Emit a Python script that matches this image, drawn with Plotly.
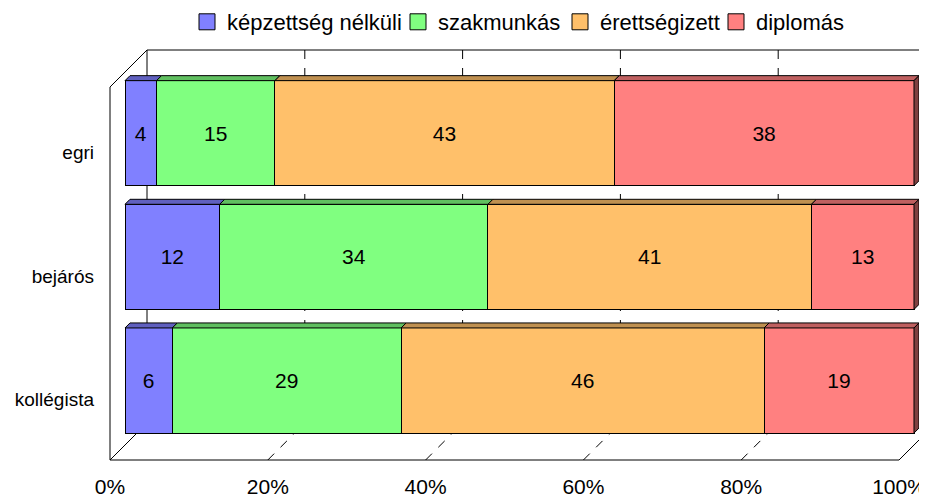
import plotly.graph_objects as go

# ---------------- data ----------------
categories = ["egri", "bejárós", "kollégista"]
series_names = ["képzettség nélküli", "szakmunkás", "érettségizett", "diplomás"]
val_nelkuli = [4, 12, 6]
val_szakmunkas = [15, 34, 29]
val_erettsegizett = [43, 41, 46]
val_diplomas = [38, 13, 19]
x_tick_vals = [0, 20, 40, 60, 80, 100]
x_tick_labels = ["0%", "20%", "40%", "60%", "80%", "100%"]

series_values = [val_nelkuli, val_szakmunkas, val_erettsegizett, val_diplomas]

# ---------------- style ----------------
front_colors = ["#8080FF", "#80FF80", "#FFC06A", "#FF8080"]
top_colors = ["#6060BF", "#60BF60", "#BF9050", "#BF6060"]
side_color = "#804040"
FONT = "Arial, Liberation Sans, sans-serif"
legend_left_px = [187, 398, 560, 716]  # page px where each legend entry begins

PAGE_W, PAGE_H = 927, 497
OFF = 8  # default body margin of the html page
W, H = PAGE_W - OFF, PAGE_H - OFF


def fx(page_px):
    return page_px - OFF


L, T = fx(110), fx(50)
R = 0
B = H - fx(460)
plot_w = W - L - R
plot_h = H - T - B

# pixel geometry (figure pixels) of the pseudo-3D box
bar_x0_px, bar_x100_px = fx(125), fx(914)
sx = (bar_x100_px - bar_x0_px) / 100.0
xr0 = -(bar_x0_px - L) / sx
xr1 = xr0 + plot_w / sx
cat_y0_px, cat_step = fx(133.2), 123.65
yr_top = -(cat_y0_px - T) / cat_step
yr_bot = yr_top + plot_h / cat_step
bar_w = 0.85
bar_depth = 5.0
wall_depth = 37.0
front_x0 = L
back_x0 = L + wall_depth
front_floor = H - B
back_floor = front_floor - wall_depth
back_top = T
front_top = T + wall_depth
front_scale_shift = bar_x0_px - front_x0


def xp(px):
    return (px - L) / plot_w


def yp(py):
    return (H - B - py) / plot_h


fig = go.Figure()
y_pos = list(range(len(categories)))
for name, vals, col in zip(series_names, series_values, front_colors):
    fig.add_trace(go.Bar(
        name=name, y=y_pos, x=vals, orientation="h", width=bar_w,
        marker=dict(color=col, line=dict(color="black", width=1)),
        text=[str(v) for v in vals], textposition="inside",
        insidetextanchor="middle", constraintext="none", textangle=0,
        textfont=dict(family=FONT, size=21, color="black"),
        hoverinfo="skip", showlegend=False,
    ))

# legend-only entries (one legend each, placed like the reference)
legend_layouts = {}
for k, (name, col) in enumerate(zip(series_names, front_colors)):
    lname = "legend" if k == 0 else f"legend{k + 1}"
    fig.add_trace(go.Scatter(
        x=[None], y=[None], mode="markers", name=name, legend=lname,
        marker=dict(symbol="square", size=16, color=col, line=dict(color="black", width=1)),
        showlegend=True, hoverinfo="skip",
    ))
    legend_layouts[lname] = dict(
        xref="container", yref="container",
        x=fx(legend_left_px[k]) / W, xanchor="left",
        y=1 - fx(22) / H, yanchor="middle",
        font=dict(family=FONT, size=22, color="black"),
        bgcolor="rgba(0,0,0,0)", borderwidth=0,
        itemclick=False, itemdoubleclick=False,
    )

shapes = []
line_k = dict(color="black", width=1)
dash_k = dict(color="black", width=1, dash="dash")


def seg(x0, y0, x1, y1, ln):
    shapes.append(dict(type="line", xref="paper", yref="paper",
                       x0=xp(x0), y0=yp(y0), x1=xp(x1), y1=yp(y1),
                       line=ln, layer="below"))


# gridlines (dashed) on back wall and floor
for v in x_tick_vals[1:-1]:
    bx = back_x0 + v * sx
    fxx = front_x0 + v * sx
    seg(bx, back_top, bx, back_floor, dash_k)
    seg(fxx, front_floor, bx, back_floor, dash_k)

# box frame
seg(back_x0, back_top, W + 20, back_top, line_k)          # back wall top
seg(back_x0, back_top, back_x0, back_floor, line_k)       # back wall left edge
seg(front_x0, front_top, back_x0, back_top, line_k)       # side wall top
seg(front_x0, front_top, front_x0, front_floor, line_k)   # side wall front
seg(front_x0, front_floor, back_x0, back_floor, line_k)   # floor left
seg(back_x0, back_floor, W + 20, back_floor, line_k)      # floor back
seg(front_x0, front_floor, front_x0 + 100 * sx, front_floor, line_k)  # floor front
seg(front_x0 + 100 * sx, front_floor, back_x0 + 100 * sx, back_floor, line_k)  # floor right

# 3D faces of bars
dx = bar_depth / sx
dy = bar_depth / cat_step
for i in range(len(categories)):
    yt = y_pos[i] - bar_w / 2
    yb = y_pos[i] + bar_w / 2
    start = 0
    for s, vals in enumerate(series_values):
        end = start + vals[i]
        path = f"M{start},{yt} L{end},{yt} L{end+dx},{yt-dy} L{start+dx},{yt-dy} Z"
        shapes.append(dict(type="path", xref="x", yref="y", path=path,
                           fillcolor=top_colors[s], line=dict(color="black", width=1),
                           layer="above"))
        start = end
    path = f"M{start},{yt} L{start+dx},{yt-dy} L{start+dx},{yb-dy} L{start},{yb} Z"
    shapes.append(dict(type="path", xref="x", yref="y", path=path,
                       fillcolor=side_color, line=dict(color="black", width=1),
                       layer="above"))

fig.update_layout(
    width=W, height=H, barmode="stack",
    margin=dict(l=L, r=R, t=T, b=B, pad=0, autoexpand=False),
    paper_bgcolor="white", plot_bgcolor="rgba(0,0,0,0)",
    font=dict(family=FONT, size=20, color="black"),
    shapes=shapes,
    showlegend=True,
    xaxis=dict(range=[xr0, xr1], showgrid=False, zeroline=False, showline=False,
               tickvals=x_tick_vals, ticktext=x_tick_labels, ticks="",
               ticklabelshift=-front_scale_shift, ticklabelstandoff=12,
               tickfont=dict(family=FONT, size=21, color="black"), automargin=False),
    yaxis=dict(range=[yr_bot, yr_top], showgrid=False, zeroline=False, showline=False,
               tickvals=y_pos, ticktext=categories, ticks="",
               ticklabelshift=-19, ticklabelstandoff=15,
               tickfont=dict(family=FONT, size=19, color="black"), automargin=False),
    hovermode=False,
    **legend_layouts,
)

fig.write_html("out.html")
